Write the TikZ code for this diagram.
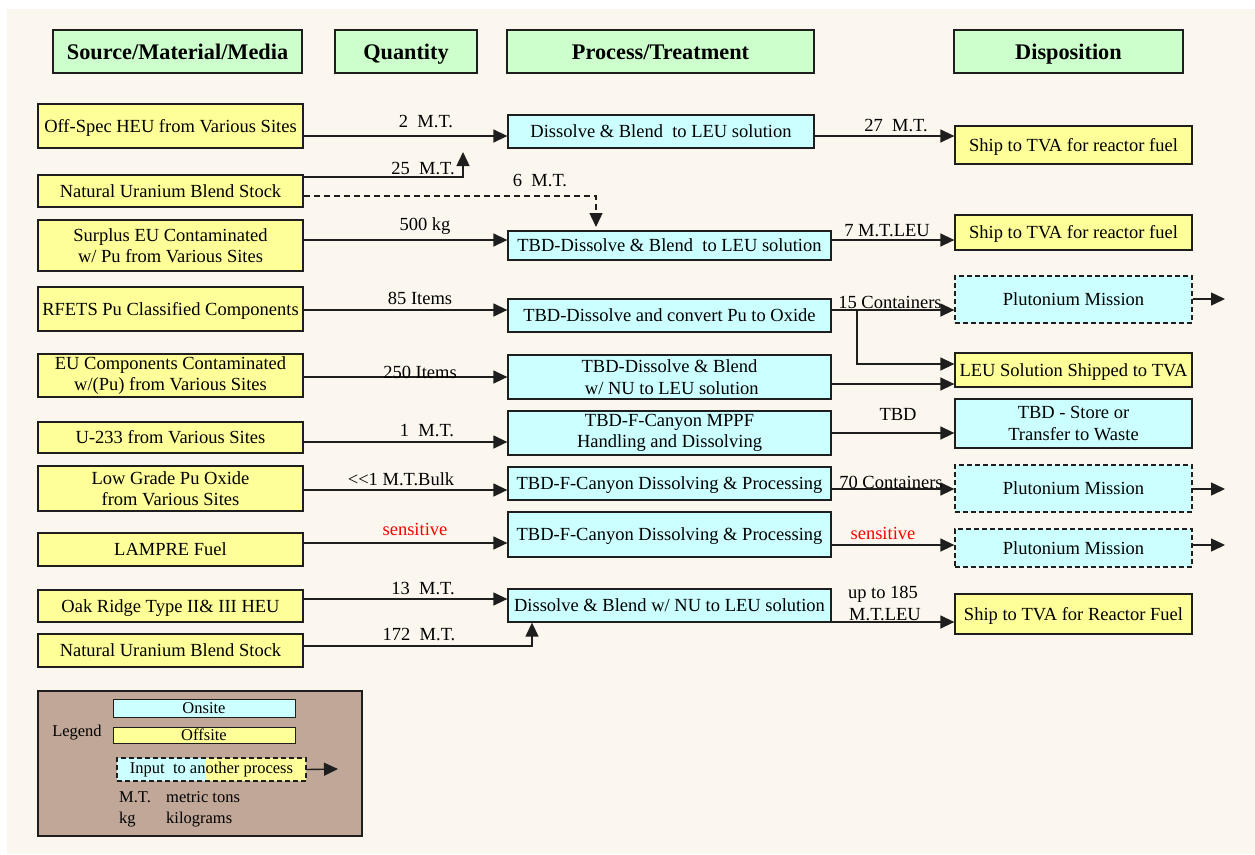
\documentclass[tikz,border=0pt]{standalone}
\usepackage{fontspec}
\setmainfont{Liberation Serif}
\usetikzlibrary{arrows.meta}

\definecolor{onsitecol}{HTML}{CCFFFF}
\definecolor{offsitecol}{HTML}{FFFF99}
\definecolor{headcol}{HTML}{CCFFCC}
\definecolor{pagecol}{HTML}{FBF7EE}
\definecolor{legendcol}{HTML}{C0A797}
\definecolor{edgecol}{HTML}{1E1E1E}

\newcommand\bodyfont{\fontsize{18.5}{21.5}\selectfont}
\newcommand\headfont{\fontsize{22.3}{26}\selectfont\bfseries}
\newcommand\keyfont{\fontsize{16.5}{19}\selectfont}

% box from its corners: style, name, x1, y1, x2, y2, text
\newcommand\mkbox[7]{%
  \node[#1, minimum width={(#5-#3)*1pt}, minimum height={(#6-#4)*1pt}]
    (#2) at ({(#3+#5)/2},{(#4+#6)/2}) {#7};}

\begin{document}
\begin{tikzpicture}[x=1pt, y=-1pt,
  box/.style={draw=edgecol, line width=1.3pt, inner sep=0pt, align=center,
    font=\bodyfont, text height=16.3pt, text depth=4pt},
  multi/.style={text height={}, text depth={}},
  onsite/.style={box, fill=onsitecol},
  offsite/.style={box, fill=offsitecol},
  feed/.style={onsite, dash pattern=on 5pt off 3pt},
  header/.style={box, fill=headcol, font=\headfont, text height=19pt, text depth=4pt},
  arr/.style={-{Triangle[length=14pt, width=13pt]}, line width=1.4pt, draw=edgecol},
  lbl/.style={anchor=base, inner sep=0pt, font=\bodyfont},
  redlbl/.style={lbl, text=red},
  keybox/.style={draw=edgecol, line width=1pt, inner sep=0pt, font=\keyfont},
  keytext/.style={anchor=base west, inner sep=0pt, font=\keyfont}]

\useasboundingbox (0,0) rectangle (1255,854);
\fill[white] (0,0) rectangle (1255,854);
\fill[pagecol] (7,9) rectangle (1255,854);

% column headings
\mkbox{header}{hsrc}{53}{30}{302}{73}{Source/Material/Media}
\mkbox{header}{hqty}{335}{30}{477}{73}{Quantity}
\mkbox{header}{hproc}{507}{30}{814}{73}{Process/Treatment}
\mkbox{header}{hdisp}{954}{30}{1183}{73}{Disposition}

% sources
\mkbox{offsite}{s1}{38}{104}{303}{148}{Off-Spec HEU from Various Sites}
\mkbox{offsite}{s2}{38}{175}{303}{207}{Natural Uranium Blend Stock}
\mkbox{offsite, multi}{s3}{38}{220}{303}{271}{Surplus EU Contaminated\\w/ Pu from Various Sites}
\mkbox{offsite}{s4}{38}{287}{303}{331}{RFETS Pu Classified Components}
\mkbox{offsite, multi}{s5}{38}{354}{303}{397}{EU Components Contaminated\\w/(Pu) from Various Sites}
\mkbox{offsite}{s6}{38}{422}{303}{453}{U-233 from Various Sites}
\mkbox{offsite, multi}{s7}{38}{466}{303}{511}{Low Grade Pu Oxide\\from Various Sites}
\mkbox{offsite}{s8}{38}{533}{303}{566}{LAMPRE Fuel}
\mkbox{offsite}{s9}{38}{590}{303}{622}{Oak Ridge Type II\& III HEU}
\mkbox{offsite}{s10}{38}{634}{303}{667}{Natural Uranium Blend Stock}

% processes
\mkbox{onsite}{p1}{508}{115}{814}{148}{Dissolve \& Blend\ \ to LEU solution}
\mkbox{onsite}{p2}{508}{231}{831}{260}{TBD-Dissolve \& Blend\ \ to LEU solution}
\mkbox{onsite}{p3}{508}{299}{831}{332}{TBD-Dissolve and convert Pu to Oxide}
\mkbox{onsite, multi}{p4}{508}{355}{831}{399}{TBD-Dissolve \& Blend\\\ w/ NU to LEU solution}
\mkbox{onsite, multi}{p5}{508}{411}{831}{455}{TBD-F-Canyon MPPF\\Handling and Dissolving}
\mkbox{onsite}{p6}{508}{467}{831}{500}{TBD-F-Canyon Dissolving \& Processing}
\mkbox{onsite}{p7}{508}{512}{831}{557}{TBD-F-Canyon Dissolving \& Processing}
\mkbox{onsite}{p8}{508}{589}{831}{622}{Dissolve \& Blend w/ NU to LEU solution}

% dispositions
\mkbox{offsite}{d1}{955}{126}{1192}{164}{Ship to TVA for reactor fuel}
\mkbox{offsite}{d2}{955}{215}{1192}{250}{Ship to TVA for reactor fuel}
\mkbox{feed}{d3}{955}{276}{1192}{323}{Plutonium Mission}
\mkbox{offsite}{d4}{955}{353}{1192}{387}{LEU Solution Shipped to TVA}
\mkbox{onsite, multi}{d5}{955}{399}{1192}{448}{TBD - Store or\\Transfer to Waste}
\mkbox{feed}{d6}{955}{465}{1192}{512}{Plutonium Mission}
\mkbox{feed}{d7}{955}{529}{1192}{567}{Plutonium Mission}
\mkbox{offsite}{d8}{955}{594}{1192}{634}{Ship to TVA for Reactor Fuel}

% free ends and junctions
\coordinate (j1) at (463,152);
\coordinate (j2) at (596,227);
\coordinate (split) at (857,310);
\coordinate (o1) at (1225,299);
\coordinate (o2) at (1225,489);
\coordinate (o3) at (1225,545);

% source -> process
\draw[arr] (s1.east |- 0,136) -- (p1.west |- 0,136);
\draw[arr] (s2.east |- 0,177) -| (j1);
\draw[arr, dash pattern=on 6pt off 4pt] (s2.east |- 0,196) -| (j2);
\draw[arr] (s3.east |- 0,240) -- (p2.west |- 0,240);
\draw[arr] (s4.east |- 0,310) -- (p3.west |- 0,310);
\draw[arr] (s5.east |- 0,377) -- (p4.west |- 0,377);
\draw[arr] (s6.east |- 0,442) -- (p5.west |- 0,442);
\draw[arr] (s7.east |- 0,490) -- (p6.west |- 0,490);
\draw[arr] (s8.east |- 0,543) -- (p7.west |- 0,543);
\draw[arr] (s9.east |- 0,599) -- (p8.west |- 0,599);
\draw[arr] (s10.east |- 0,646) -| (p8.south -| 532,0);

% process -> disposition
\draw[arr] (p1.east |- 0,136) -- (d1.west |- 0,136);
\draw[arr] (p2.east |- 0,240) -- (d2.west |- 0,240);
\draw[arr] (p3.east |- split) -- (d3.west |- split);
\draw[arr] (split) |- (d4.west |- 0,364);
\draw[arr] (p4.east |- 0,384) -- (d4.west |- 0,384);
\draw[arr] (p5.east |- 0,433) -- (d5.west |- 0,433);
\draw[arr] (p6.east |- 0,489) -- (d6.west |- 0,489);
\draw[arr] (p7.east |- 0,545) -- (d7.west |- 0,545);
\draw[arr] (p8.east |- 0,622) -- (d8.west |- 0,622);

% onward to another process
\draw[arr] (d3.east |- o1) -- (o1);
\draw[arr] (d6.east |- o2) -- (o2);
\draw[arr] (d7.east |- o3) -- (o3);

% quantities
\node[lbl] (q1) at (426,127) {2\ \ M.T.};
\node[lbl] (q2) at (423,174) {25\ \ M.T.};
\node[lbl] (q3) at (540,186) {6\ \ M.T.};
\node[lbl] (q4) at (425,230) {500 kg};
\node[lbl] (q5) at (420,304) {85 Items};
\node[lbl] (q6) at (420,378) {250 Items};
\node[lbl] (q7) at (427,436) {1\ \ M.T.};
\node[lbl] (q8) at (401,485) {<\kern0pt<1 M.T.Bulk};
\node[redlbl] (q9) at (415,535) {sensitive};
\node[lbl] (q10) at (423,594) {13\ \ M.T.};
\node[lbl] (q11) at (419,640) {172\ \ M.T.};

\node[lbl] (r1) at (896,131) {27\ \ M.T.};
\node[lbl] (r2) at (887,236) {7 M.T.LEU};
\node[lbl] (r3) at (890,308) {15 Containers};
\node[lbl] (r4) at (898,420) {TBD};
\node[lbl] (r5) at (891,488) {70 Containers};
\node[redlbl] (r6) at (883,539) {sensitive};
\node[lbl] (r7) at (883,598) {up to 185};
\node[lbl] (r8) at (885,620) {M.T.LEU};

% legend
\mkbox{box, multi, fill=legendcol, line width=1.2pt}{legendbox}{38}{691}{362}{836}{}
\node[anchor=base, inner sep=0pt, font=\keyfont] (legendtitle) at (77,736) {Legend};
\mkbox{keybox, fill=onsitecol}{keyon}{113}{699}{295}{717}{Onsite}
\mkbox{keybox, fill=offsitecol}{keyoff}{113}{727}{295}{743}{Offsite}
\fill[onsitecol] (117,758) rectangle (206,781);
\fill[offsitecol] (206,758) rectangle (306,781);
\mkbox{keybox, line width=1.3pt, dash pattern=on 5pt off 3pt}{keyfeed}{117}{758}{306}{781}{Input\ \ to another process}
\coordinate (keyout) at (338,769);
\draw[arr] (keyfeed.east) -- (keyout);
\node[keytext] (mtabbr) at (119,802) {M.T.};
\node[keytext] (mtdef) at (166,802) {metric tons};
\node[keytext] (kgabbr) at (119,823) {kg};
\node[keytext] (kgdef) at (166,823) {kilograms};

\end{tikzpicture}
\end{document}
